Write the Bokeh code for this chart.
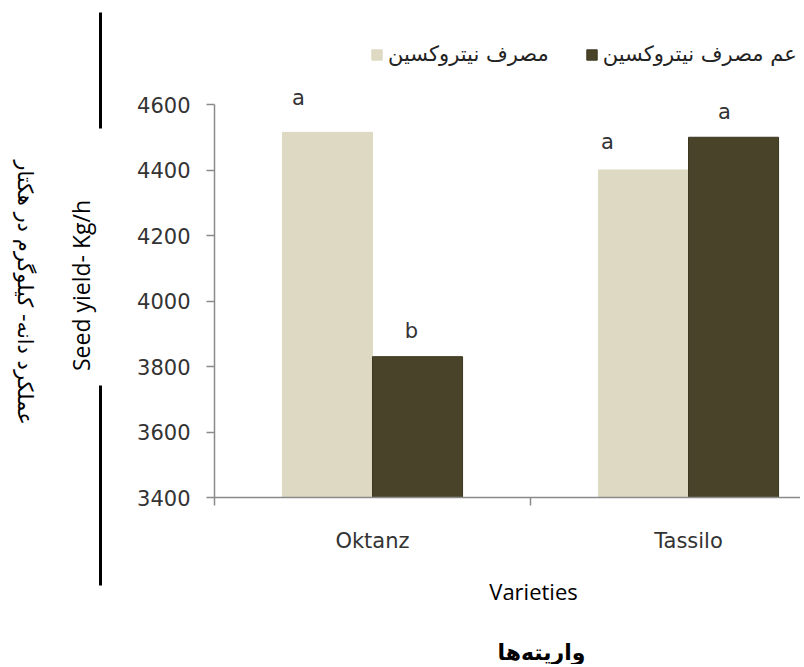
import math
from bokeh.plotting import figure
from bokeh.models import (Range1d, FixedTicker, Legend, LegendItem, Label, LabelSet, Arrow,
                          ColumnDataSource)
from bokeh.core.properties import value
from bokeh.embed import file_html
from bokeh.resources import INLINE

# ---- data ----
categories = ["Oktanz", "Tassilo"]
with_nitroxin = [4515, 4400]       # light bars
without_nitroxin = [3830, 4500]    # dark bars
letters_with = ["a", "a"]
letters_without = ["b", "a"]
y_ticks = [3400, 3600, 3800, 4000, 4200, 4400, 4600]
series_names = ["مصرف نیتروکسین", "عم مصرف نیتروکسین"]

# ---- layout / style ----
LIGHT = "#DDD9C3"
DARK = "#494429"
AXIS = "#8a8a8a"
TXT = "#333333"
bar_w = 0.285
dodge = 0.1425
letter_dx_with = [-29, -36]
letter_dx_without = [-6, -9]
letter_dy_with = [34, 28]
letter_dy_without = [26, 25]

W, H = 800, 664                 # canvas size; the frame fills the whole canvas
AX_X, AX_TOP, AX_BOT = 214, 104, 497   # pixel position of the plot area
unit_px = 316                   # pixels per category
ypx = (AX_BOT - AX_TOP) / (y_ticks[-1] - y_ticks[0])

x_start = -AX_X / unit_px
x_end = (W - AX_X) / unit_px
y_start = y_ticks[0] - (H - AX_BOT) / ypx
y_end = y_ticks[-1] + AX_TOP / ypx

centers = [i + 0.5 for i in range(len(categories))]
x_with = [c - dodge for c in centers]
x_without = [c + dodge for c in centers]

p = figure(width=W, height=H, output_backend="svg", toolbar_location=None,
           x_range=Range1d(x_start, x_end), y_range=Range1d(y_start, y_end),
           min_border=0, min_border_left=0, min_border_right=0,
           min_border_top=0, min_border_bottom=0)
p.outline_line_color = None
p.grid.grid_line_color = None
p.background_fill_color = "white"
p.border_fill_color = "white"

src_w = ColumnDataSource(dict(x=x_with, top=with_nitroxin, lab=letters_with,
                              dx=letter_dx_with, dy=letter_dy_with))
src_wo = ColumnDataSource(dict(x=x_without, top=without_nitroxin, lab=letters_without,
                               dx=letter_dx_without, dy=letter_dy_without))

r1 = p.vbar(x="x", top="top", bottom=y_ticks[0], width=bar_w, source=src_w,
            fill_color=LIGHT, line_color=LIGHT)
r2 = p.vbar(x="x", top="top", bottom=y_ticks[0], width=bar_w, source=src_wo,
            fill_color=DARK, line_color="#3b3720")

for s in (src_w, src_wo):
    p.add_layout(LabelSet(x="x", y="top", text="lab", source=s, x_offset="dx", y_offset="dy",
                          text_align="center", text_baseline="middle", text_color=TXT,
                          text_font=value("DejaVu Sans"), text_font_size="21px"))

# x axis
xa = p.xaxis[0]
xa.fixed_location = y_ticks[0]
xa.bounds = (0, x_end)
xa.ticker = FixedTicker(ticks=centers, minor_ticks=[float(i) for i in range(len(categories) + 1)])
xa.major_label_overrides = {c: n for c, n in zip(centers, categories)}
xa.major_tick_out = 0
xa.major_tick_in = 0
xa.minor_tick_in = 0
xa.minor_tick_out = 8
xa.minor_tick_line_color = AXIS
xa.minor_tick_line_width = 1.5
xa.axis_line_color = AXIS
xa.axis_line_width = 1.5
xa.major_label_standoff = 23
xa.major_label_text_font = "DejaVu Sans"
xa.major_label_text_font_size = "21px"
xa.major_label_text_color = TXT

ya = p.yaxis[0]
ya.fixed_location = 0
ya.bounds = (y_ticks[0], y_ticks[-1])
ya.ticker = FixedTicker(ticks=y_ticks)
ya.major_tick_out = 8
ya.major_tick_in = 0
ya.minor_tick_out = 0
ya.minor_tick_in = 0
ya.major_tick_line_color = AXIS
ya.major_tick_line_width = 1.5
ya.axis_line_color = AXIS
ya.axis_line_width = 1.5
ya.major_label_standoff = 16
ya.major_label_text_font = "DejaVu Sans"
ya.major_label_text_font_size = "21px"
ya.major_label_text_color = TXT

legend = Legend(items=[LegendItem(label=series_names[0], renderers=[r1]),
                       LegendItem(label=series_names[1], renderers=[r2])],
                orientation="horizontal", location=(370, H - 66),
                border_line_color=None, background_fill_alpha=0,
                padding=0, margin=0, spacing=36, label_standoff=5,
                glyph_width=13, glyph_height=13,
                label_text_font="DejaVu Sans", label_text_font_size="21px",
                label_text_color="#222222")
p.add_layout(legend, "center")

# free texts, placed in pixels (x from left, y from top of the page)
def lab(px, py, **kw):
    p.add_layout(Label(x=px, y=H - py, x_units="screen", y_units="screen",
                       text_color="black", **kw))

lab(80, 285, text="Seed yield- Kg/h", angle=math.pi / 2,
    text_align="center", text_baseline="middle",
    text_font="Open Sans", text_font_size="23px")
lab(24, 292, text="عملکرد دانه- کیلوگرم در هکتار", angle=-math.pi / 2,
    text_align="center", text_baseline="middle",
    text_font="DejaVu Sans", text_font_size="21px")
lab(533, 590, text="Varieties", text_align="center", text_baseline="alphabetic",
    text_font="Open Sans", text_font_size="22px")
lab(541, 652, text="واریته\u200cها", text_align="center", text_baseline="middle",
    text_font="DejaVu Sans", text_font_size="22px", text_font_style="bold")

for (y0, y1) in [(12, 128), (385, 585)]:
    p.add_layout(Arrow(x_start=100, y_start=H - y0, x_end=100, y_end=H - y1,
                       start_units="screen", end_units="screen", end=None,
                       line_color="black", line_width=3))

open("out.html", "w").write(file_html(p, INLINE))
